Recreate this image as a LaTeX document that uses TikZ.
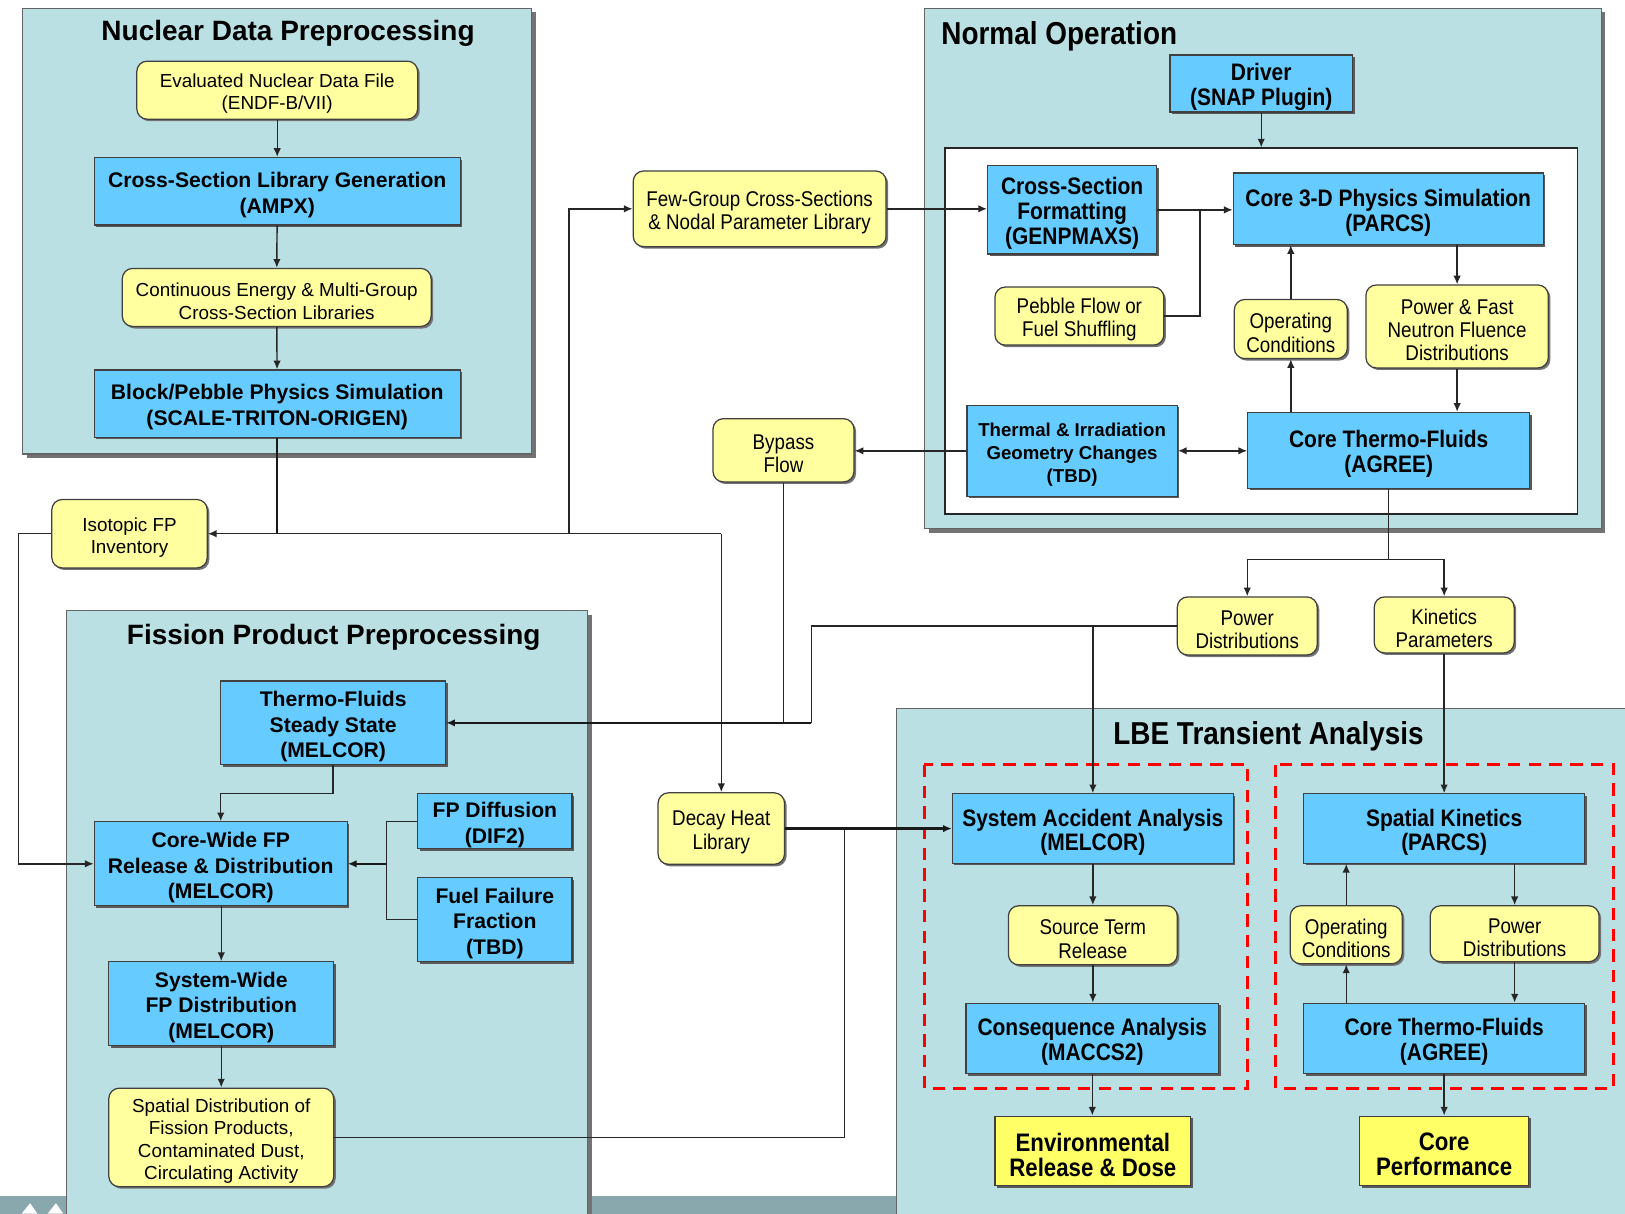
\documentclass[tikz,border=0pt]{standalone}
\usepackage{fontspec}
\setmainfont{Liberation Sans}
\newfontfamily\nar[FakeStretch=0.88]{Liberation Sans}
\usetikzlibrary{arrows.meta}
\definecolor{panelc}{RGB}{187,224,228}
\definecolor{bluec}{RGB}{102,204,255}
\definecolor{yelc}{RGB}{255,255,160}
\definecolor{finc}{RGB}{255,255,102}
\definecolor{bandc}{RGB}{137,168,174}
\definecolor{panelb}{RGB}{100,100,100}
\tikzset{
  box/.style={draw=black!75, line width=0.6pt, inner sep=0pt},
  bluebox/.style={box, fill=bluec},
  yelbox/.style={box, fill=yelc, rounded corners=5pt},
  finbox/.style={box, fill=finc},
  shbluebox/.style={fill=black!65},
  shyelbox/.style={fill=black!55, rounded corners=5pt},
  shfinbox/.style={fill=black!65},
  boxtext/.style={align=center, inner sep=0pt, yshift=-1.8pt},
  panel/.style={draw=panelb, line width=0.6pt, fill=panelc, inner sep=0pt},
  innerbox/.style={draw=black!85, line width=0.7pt, fill=white, inner sep=0pt},
  shP/.style={fill=black!55},
  fBR/.style={font=\fontsize{10.2}{12.5}\selectfont\bfseries},
  fBS/.style={font=\fontsize{9}{11.2}\selectfont\bfseries},
  fBN/.style={font=\nar\fontsize{11.5}{12}\selectfont\bfseries},
  fYR/.style={font=\fontsize{9.1}{10.8}\selectfont},
  fYN/.style={font=\nar\fontsize{10.3}{11.2}\selectfont},
  fFin/.style={font=\nar\fontsize{12.2}{12.2}\selectfont\bfseries},
  titR/.style={font=\fontsize{13.5}{16}\selectfont\bfseries, inner sep=0pt},
  titN/.style={font=\nar\fontsize{15.3}{18}\selectfont\bfseries, inner sep=0pt},
  con/.style={draw=black!85, line width=0.7pt},
  thk/.style={draw=black!90, line width=1.2pt},
  arr/.style={-{Latex[length=4.2pt,width=3.6pt]}},
  darr/.style={{Latex[length=4.2pt,width=3.6pt]}-{Latex[length=4.2pt,width=3.6pt]}},
  reddash/.style={draw=red, line width=1.4pt, dash pattern=on 6pt off 4pt},
}
% #1 name, #2 kind (bluebox/yelbox/finbox), #3 font style, #4-#7 x1 y1 x2 y2, #8 text
\newcommand\mkbox[8]{%
  \fill[sh#2] ({#4+2},{#5+2}) rectangle ({#6+2},{#7+2});
  \node[#2, minimum width={(#6-#4)*0.5pt}, minimum height={(#7-#5)*0.5pt}]
    (#1) at ({(#4+#6)/2},{(#5+#7)/2}) {};
  \node[boxtext,#3] (#1-t) at (#1.center) {#8};}
\newcommand\mkpanel[5]{%
  \fill[shP] ({#2+4},{#3+4}) rectangle ({#4+4},{#5+4});
  \node[panel, minimum width={(#4-#2)*0.5pt}, minimum height={(#5-#3)*0.5pt}]
    (#1) at ({(#2+#4)/2},{(#3+#5)/2}) {};}
\begin{document}
\begin{tikzpicture}[x=0.5pt,y=-0.5pt]
\clip (0,0) rectangle (1568,1171);
\fill[white] (0,0) rectangle (1568,1171);
% bottom band
\fill[bandc] (0,1154) rectangle (1568,1171);
\fill[white] (21,1171) -- (29,1161) -- (36,1171) -- cycle;
\fill[white] (46,1171) -- (54,1161) -- (61,1171) -- cycle;

% panels
\mkpanel{pnuc}{22}{8}{513}{438}
\mkpanel{pnorm}{892}{8}{1545}{510}
\mkpanel{pfpp}{64}{589}{567}{1185}
\mkpanel{plbe}{865}{684}{1580}{1185}
\node[innerbox, minimum width={610*0.5pt}, minimum height={353*0.5pt}] (inner) at (1217,319.5) {};

\node[titR] (tnuc) at (278,32) {Nuclear Data Preprocessing};
\node[titN, anchor=west] (tnorm) at (908,35) {Normal Operation};
\node[titR] (tfpp) at (322,615) {Fission Product Preprocessing};
\node[titN] (tlbe) at (1224,710) {LBE Transient Analysis};

\draw[reddash] (892,738) rectangle (1204,1050);
\draw[reddash] (1231,738) rectangle (1557,1050);

% Nuclear data preprocessing
\mkbox{evf}{yelbox}{fYR}{132}{59}{403}{115}{Evaluated Nuclear Data File\\(ENDF-B/VII)}
\mkbox{ampx}{bluebox}{fBR}{91}{152}{444}{217}{Cross-Section Library Generation\\(AMPX)}
\mkbox{cel}{yelbox}{fYR}{118}{259}{416}{315}{Continuous Energy \& Multi-Group\\Cross-Section Libraries}
\mkbox{bps}{bluebox}{fBR}{91}{357}{444}{422}{Block/Pebble Physics Simulation\\(SCALE-TRITON-ORIGEN)}

% Normal operation
\mkbox{driver}{bluebox}{fBN}{1129}{53}{1305}{108}{Driver\\(SNAP Plugin)}
\mkbox{genp}{bluebox}{fBN}{953}{160}{1116}{245}{Cross-Section\\Formatting\\(GENPMAXS)}
\mkbox{parcs}{bluebox}{fBN}{1190}{167}{1489}{236}{Core 3-D Physics Simulation\\(PARCS)}
\mkbox{pebble}{yelbox}{fYN}{960}{277}{1123}{333}{Pebble Flow or\\Fuel Shuffling}
\mkbox{opc}{yelbox}{fYN}{1191}{289}{1300}{346}{Operating\\Conditions}
\mkbox{pff}{yelbox}{fYN}{1318}{275}{1494}{355}{Power \& Fast\\Neutron Fluence\\Distributions}
\mkbox{tig}{bluebox}{fBS}{933}{391}{1136}{479}{Thermal \& Irradiation\\Geometry Changes\\(TBD)}
\mkbox{agree}{bluebox}{fBN}{1204}{398}{1476}{471}{Core Thermo-Fluids\\(AGREE)}

% middle
\mkbox{fewg}{yelbox}{fYN}{611}{165}{855}{238}{Few-Group Cross-Sections\\\& Nodal Parameter Library}
\mkbox{bypass}{yelbox}{fYN}{688}{404}{824}{465}{Bypass\\Flow}
\mkbox{iso}{yelbox}{fYR}{50}{482}{200}{548}{Isotopic FP\\Inventory}
\mkbox{decay}{yelbox}{fYN}{635}{765}{757}{834}{Decay Heat\\Library}
\mkbox{pd1}{yelbox}{fYN}{1136}{576}{1271}{632}{Power\\Distributions}
\mkbox{kin}{yelbox}{fYN}{1326}{576}{1461}{630}{Kinetics\\Parameters}

% fission product preprocessing
\mkbox{tfss}{bluebox}{fBR}{213}{657}{430}{738}{Thermo-Fluids\\Steady State\\(MELCOR)}
\mkbox{cwfp}{bluebox}{fBR}{91}{793}{335}{874}{Core-Wide FP\\Release \& Distribution\\(MELCOR)}
\mkbox{fpd}{bluebox}{fBR}{403}{766}{552}{819}{FP Diffusion\\(DIF2)}
\mkbox{fff}{bluebox}{fBR}{403}{847}{552}{928}{Fuel Failure\\Fraction\\(TBD)}
\mkbox{swfp}{bluebox}{fBR}{105}{928}{322}{1009}{System-Wide\\FP Distribution\\(MELCOR)}
\mkbox{sdfp}{yelbox}{fYR}{105}{1050}{322}{1145}{Spatial Distribution of\\Fission Products,\\Contaminated Dust,\\Circulating Activity}

% LBE transient analysis
\mkbox{saa}{bluebox}{fBN}{919}{766}{1190}{833}{System Accident Analysis\\(MELCOR)}
\mkbox{str}{yelbox}{fYN}{973}{874}{1136}{931}{Source Term\\Release}
\mkbox{cons}{bluebox}{fBN}{932}{968}{1176}{1036}{Consequence Analysis\\(MACCS2)}
\mkbox{spk}{bluebox}{fBN}{1258}{766}{1529}{833}{Spatial Kinetics\\(PARCS)}
\mkbox{opc2}{yelbox}{fYN}{1245}{874}{1353}{930}{Operating\\Conditions}
\mkbox{pd2}{yelbox}{fYN}{1380}{874}{1543}{928}{Power\\Distributions}
\mkbox{agree2}{bluebox}{fBN}{1258}{968}{1529}{1036}{Core Thermo-Fluids\\(AGREE)}
\mkbox{env}{finbox}{fFin}{960}{1077}{1149}{1144}{Environmental\\Release \& Dose}
\mkbox{cperf}{finbox}{fFin}{1312}{1077}{1475}{1144}{Core\\Performance}

% ---------- connectors ----------
% nuclear data chain
\draw[con,arr] (evf) -- (ampx);
\draw[con,arr] (ampx) -- (cel);
\draw[con,arr] (cel) -- (bps);
\coordinate (j1) at (bps.south |- iso.east);
\coordinate (j2) at (549,515);
\coordinate (jd) at (decay.north |- iso.east);
\draw[thk] (bps.south) -- (j1);
\draw[con,arr] (j1) -- (iso.east);
\draw[con] (j1) -- (jd);
\draw[con,arr] (jd) -- (decay.north);
\draw[con,arr] (j2) |- (fewg.west);
% normal operation
\draw[con,arr] (fewg.east) -- (fewg.east -| genp.west);
\draw[con,arr] (genp.east) -- (genp.east -| parcs.west);
\coordinate (jp) at (1158,201.5);
\draw[con] (pebble.east) -| (jp);
\draw[con,arr] (driver.south) -- (driver.south |- inner.north);
\draw[con,arr] (agree.north -| opc.south) -- (opc.south);
\draw[con,arr] (opc.north) -- (opc.north |- parcs.south);
\draw[con,arr] (parcs.south -| pff.north) -- (pff.north);
\draw[con,arr] (pff.south) -- (pff.south |- agree.north);
\draw[con,darr] (tig.east) -- (tig.east -| agree.west);
\draw[con,arr] (tig.west) -- (tig.west -| bypass.east);
% bypass / power distributions to thermo-fluids steady state
\coordinate (jb) at (783,697.5);
\draw[con] (bypass.south) -- (bypass.south |- tfss.east);
\draw[thk,arr] (jb) -- (tfss.east);
\draw[con] (pd1.west) -| (jb);
\draw[con,arr] (saa.north |- pd1.west) -- (saa.north);
% AGREE to power distributions / kinetics
\coordinate (ja) at (1340,540);
\draw[con] (agree.south) -- (ja);
\draw[con,arr] (ja) -| (pd1.north);
\draw[con,arr] (ja) -| (kin.north);
\draw[con,arr] (kin.south) -- (spk.north);
% decay heat / spatial distribution to system accident analysis
\coordinate (js) at (815,799.5);
\draw[thk,arr] (decay.east) -- (saa.west);
\draw[con] (sdfp.east) -| (js);
% fission product preprocessing
\draw[con,arr] (tfss.south) -- ++(0,27) -| (cwfp.north);
\coordinate (jf) at (373,833.5);
\draw[con] (fpd.west) -| (jf);
\draw[con] (fff.west) -| (jf);
\draw[thk,arr] (jf) -- (cwfp.east);
\draw[con,arr] (cwfp.south) -- (cwfp.south -| swfp.north) -- (swfp.north);
\draw[con,arr] (swfp.south) -- (sdfp.north);
\coordinate (ji) at (18,515);
\draw[con,arr] (iso.west) -- (ji) |- (cwfp.west);
% LBE transient analysis
\draw[con,arr] (saa.south) -- (saa.south |- str.north);
\draw[con,arr] (str.south) -- (str.south |- cons.north);
\draw[con,arr] (cons.south) -- (cons.south |- env.north);
\draw[con,arr] (spk.south -| pd2.north) -- (pd2.north);
\draw[con,arr] (pd2.south) -- (pd2.south |- agree2.north);
\draw[con,arr] (agree2.north -| opc2.south) -- (opc2.south);
\draw[con,arr] (opc2.north) -- (opc2.north |- spk.south);
\draw[con,arr] (agree2.south) -- (agree2.south |- cperf.north);
\end{tikzpicture}
\end{document}
